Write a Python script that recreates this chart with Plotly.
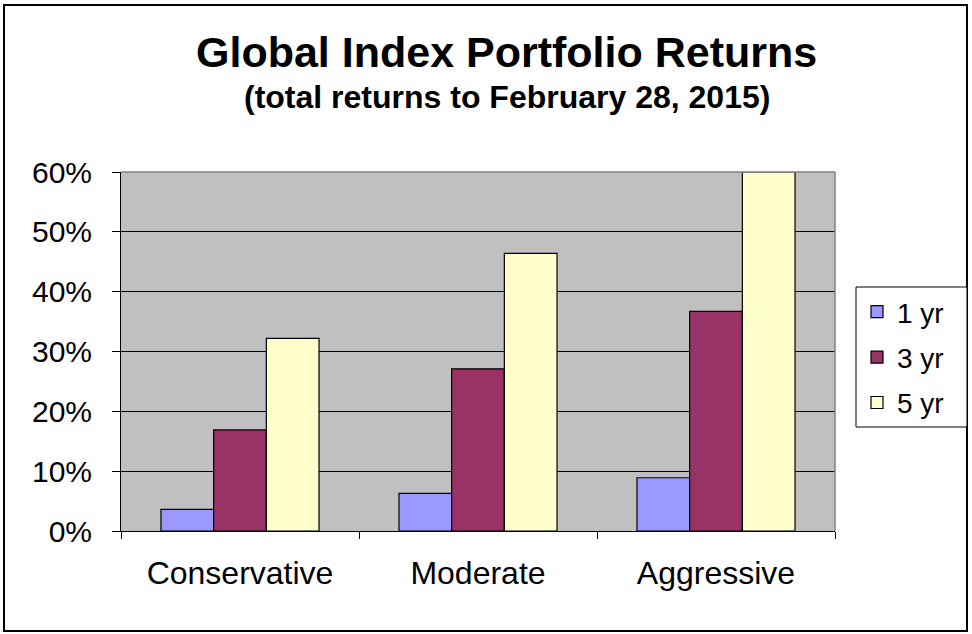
import plotly.graph_objects as go

categories = ["Conservative", "Moderate", "Aggressive"]
series_names = ["1 yr", "3 yr", "5 yr"]
ret_1yr = [3.6, 6.3, 8.9]
ret_3yr = [16.9, 27.1, 36.7]
ret_5yr = [32.2, 46.4, 60.0]
colors = ["#9999FF", "#993366", "#FFFFCC"]
y_ticks = [0, 10, 20, 30, 40, 50, 60]
y_tick_labels = ["0%", "10%", "20%", "30%", "40%", "50%", "60%"]

W, H = 972, 634
L, R, T, B = 121, 835, 172, 531

def px(x):
    return (x - L) / (R - L)

def py(y):
    return (B - y) / (B - T)

FONT = "Liberation Sans, Arial, sans-serif"

fig = go.Figure()
for i, (name, vals) in enumerate(zip(series_names, [ret_1yr, ret_3yr, ret_5yr])):
    fig.add_trace(go.Bar(
        x=categories, y=vals, name=name,
        marker=dict(color=colors[i], line=dict(color="black", width=1.2)),
        legendgroup=name,
    ))

fig.update_layout(
    width=W, height=H,
    margin=dict(l=L, r=W - R, t=T, b=H - B, pad=0),
    paper_bgcolor="white",
    plot_bgcolor="#C0C0C0",
    barmode="group",
    bargap=0.336,
    bargroupgap=0,
    font=dict(family=FONT, color="black"),
    showlegend=True,
    legend=dict(
        x=px(857), y=py(287), xanchor="left", yanchor="top",
        bgcolor="rgba(0,0,0,0)", borderwidth=0,
        font=dict(size=28, family=FONT),
        traceorder="grouped", tracegroupgap=6,
        itemwidth=30,
    ),
    xaxis=dict(
        showgrid=False, showline=True, linecolor="black", linewidth=1,
        ticks="outside", tickson="boundaries", ticklen=7, tickcolor="black",
        tickfont=dict(size=32, family=FONT),
        ticklabelstandoff=14,
    ),
    yaxis=dict(
        range=[0, 60], tickvals=y_ticks, ticktext=y_tick_labels,
        showgrid=True, gridcolor="black", gridwidth=1,
        showline=True, linecolor="black", linewidth=1,
        ticks="outside", ticklen=8, tickcolor="black",
        tickfont=dict(size=30, family=FONT),
        ticklabelstandoff=14,
        zeroline=False,
    ),
    shapes=[
        dict(type="line", xref="paper", yref="paper", x0=0, x1=1, y0=1, y1=1,
             line=dict(color="#808080", width=1.5), layer="above"),
        dict(type="line", xref="paper", yref="paper", x0=1, x1=1, y0=0, y1=1,
             line=dict(color="#808080", width=1.5), layer="above"),
        dict(type="rect", xref="paper", yref="paper",
             x0=px(4), x1=px(967), y0=py(631), y1=py(5),
             line=dict(color="black", width=2), layer="below"),
        dict(type="rect", xref="paper", yref="paper",
             x0=px(856), x1=px(967), y0=py(427), y1=py(287),
             fillcolor="white", line=dict(color="black", width=1), layer="above"),
    ],
    annotations=[
        dict(text="<b>Global Index Portfolio Returns</b>", xref="paper", yref="paper",
             x=px(506), y=py(52), xanchor="center", yanchor="middle",
             showarrow=False, font=dict(size=43, family=FONT)),
        dict(text="<b>(total returns to February 28, 2015)</b>", xref="paper", yref="paper",
             x=px(507), y=py(97), xanchor="center", yanchor="middle",
             showarrow=False, font=dict(size=32, family=FONT)),
    ],
)

fig.write_html("out.html", config={"displayModeBar": False},
               post_script="document.body.style.margin='0';")
